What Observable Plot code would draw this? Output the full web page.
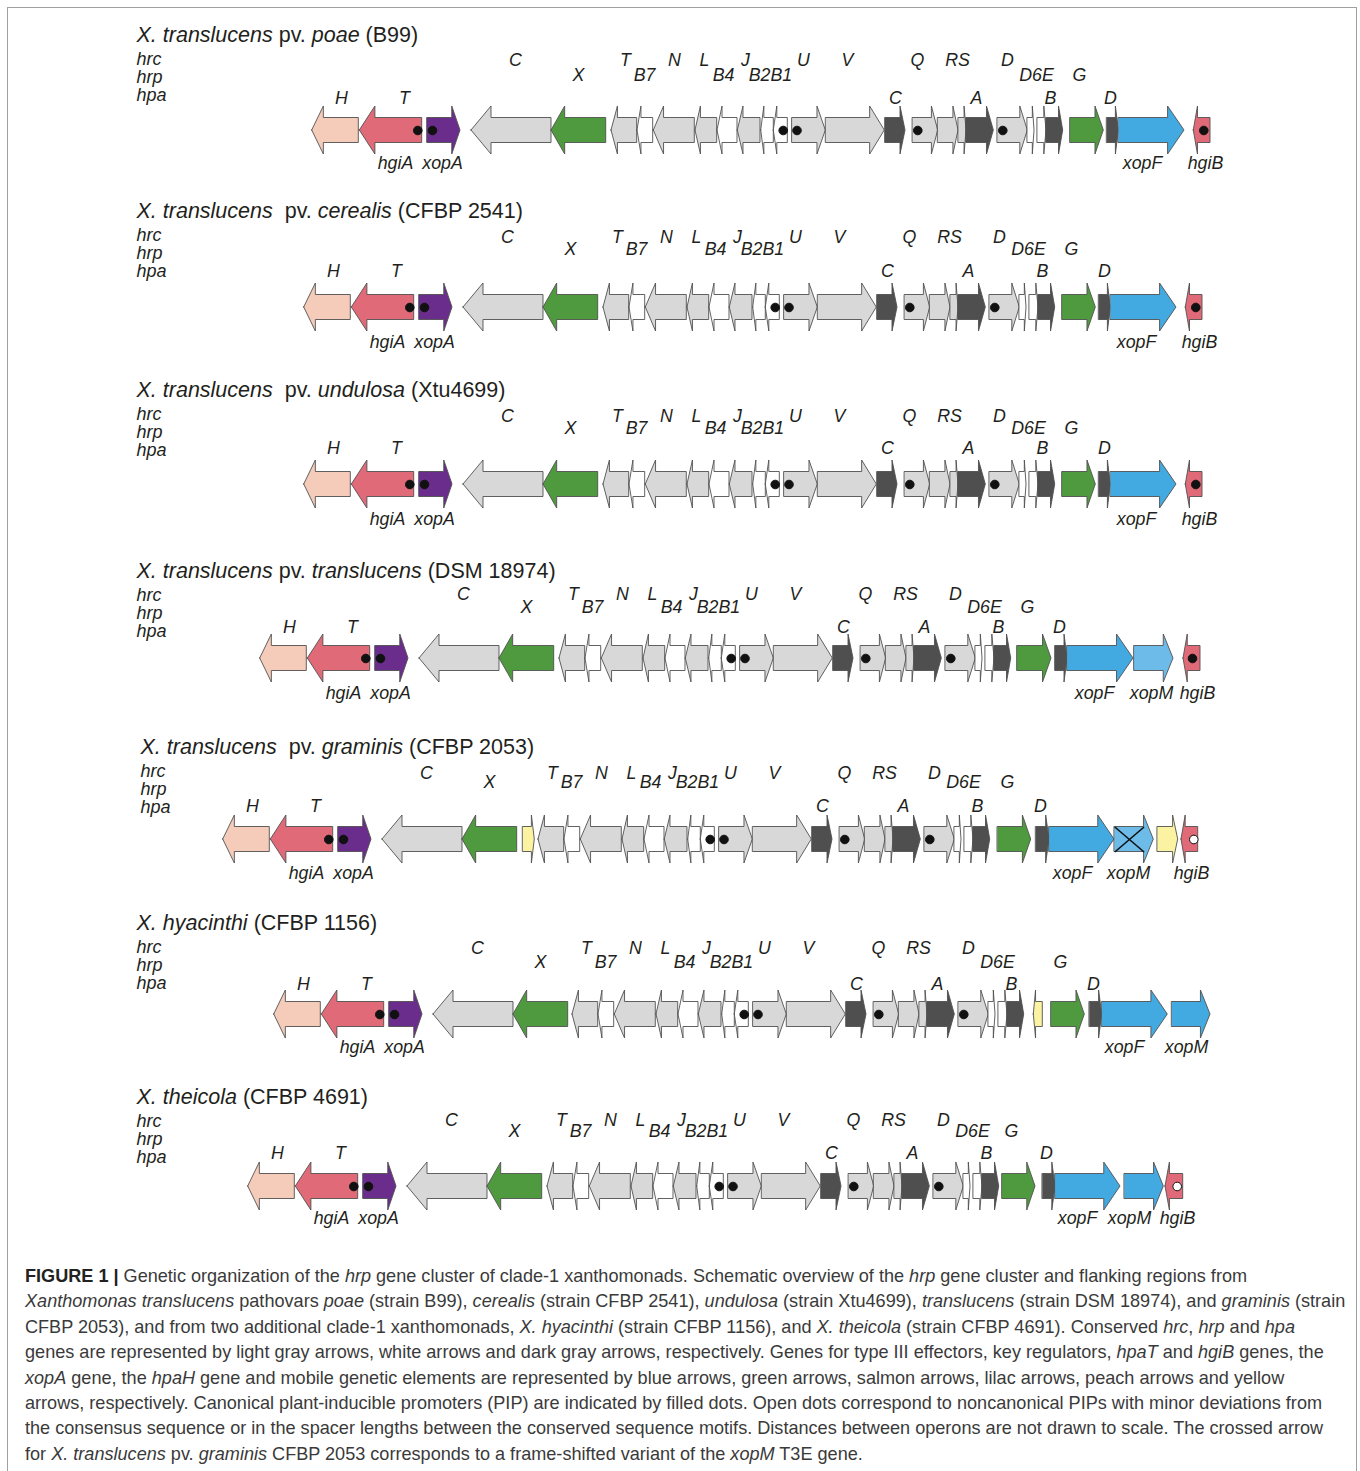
<!DOCTYPE html>
<html><head><meta charset="utf-8">
<script src="https://cdn.jsdelivr.net/npm/d3@7"></script>
<script src="https://cdn.jsdelivr.net/npm/@observablehq/plot@0.6"></script>
<style>
body{margin:0;background:#fff;}
#wrap{position:relative;width:1360px;height:1471px;overflow:hidden;}
#frame{position:absolute;left:7px;top:7px;width:1350px;height:1480px;border:1px solid #a0a0a0;box-sizing:border-box;}
#chart{position:absolute;left:0;top:0;}
#caption{position:absolute;left:25px;top:1264px;font-family:"Liberation Sans",Arial,sans-serif;font-size:18.1px;line-height:25.4px;color:#3a3a3a;white-space:nowrap;}
#caption b{color:#222;}
</style></head><body>
<div id="wrap"><div id="frame"></div><div id="chart"></div>
<div id="caption"><b>FIGURE 1 |</b> Genetic organization of the <i>hrp</i> gene cluster of clade-1 xanthomonads. Schematic overview of the <i>hrp</i> gene cluster and flanking regions from<br><i>Xanthomonas translucens</i> pathovars <i>poae</i> (strain B99), <i>cerealis</i> (strain CFBP 2541), <i>undulosa</i> (strain Xtu4699), <i>translucens</i> (strain DSM 18974), and <i>graminis</i> (strain<br>CFBP 2053), and from two additional clade-1 xanthomonads, <i>X. hyacinthi</i> (strain CFBP 1156), and <i>X. theicola</i> (strain CFBP 4691). Conserved <i>hrc</i>, <i>hrp</i> and <i>hpa</i><br>genes are represented by light gray arrows, white arrows and dark gray arrows, respectively. Genes for type III effectors, key regulators, <i>hpaT</i> and <i>hgiB</i> genes, the<br><i>xopA</i> gene, the <i>hpaH</i> gene and mobile genetic elements are represented by blue arrows, green arrows, salmon arrows, lilac arrows, peach arrows and yellow<br>arrows, respectively. Canonical plant-inducible promoters (PIP) are indicated by filled dots. Open dots correspond to noncanonical PIPs with minor deviations from<br>the consensus sequence or in the spacer lengths between the conserved sequence motifs. Distances between operons are not drawn to scale. The crossed arrow<br>for <i>X. translucens</i> pv. <i>graminis</i> CFBP 2053 corresponds to a frame-shifted variant of the <i>xopM</i> T3E gene.</div>
</div>
<script>
// ---------------- DATA ----------------
const titles = [
  "*X. translucens* pv. *poae* (B99)",
  "*X. translucens*  pv. *cerealis* (CFBP 2541)",
  "*X. translucens*  pv. *undulosa* (Xtu4699)",
  "*X. translucens* pv. *translucens* (DSM 18974)",
  "*X. translucens*  pv. *graminis* (CFBP 2053)",
  "*X. hyacinthi* (CFBP 1156)",
  "*X. theicola* (CFBP 4691)"
];
const geneFamilies = ["hrc", "hrp", "hpa"];

// upstream block (hpaH .. hrpX), coordinates of strain B99
const leftGenes = [
  {start: 311.7, end: 358.3, strand: -1, kind: "peach"},
  {start: 359.3, end: 421.7, strand: -1, kind: "salmon", pip: 417.3},
  {start: 427.0, end: 460.0, strand: 1, kind: "lilac", pip: 432},
  {start: 471.0, end: 551.0, strand: -1, kind: "hrc"},
  {start: 551.0, end: 605.7, strand: -1, kind: "green"}
];
const leftLabels = [["C", 515, 1], ["X", 578, 2], ["H", 341, 3], ["T", 404, 3], ["hgiA", 395, 4], ["xopA", 442, 4]];

// core hrp cluster (hrcT .. hrpB), coordinates of strain B99
const midGenes = [
  {start: 611.0, end: 636.7, strand: -1, kind: "hrc"},
  {start: 637.0, end: 652.7, strand: -1, kind: "hrp"},
  {start: 653.3, end: 694.3, strand: -1, kind: "hrc"},
  {start: 695.0, end: 716.7, strand: -1, kind: "hrc"},
  {start: 717.0, end: 737.0, strand: -1, kind: "hrp"},
  {start: 737.3, end: 760.0, strand: -1, kind: "hrc"},
  {start: 760.7, end: 773.3, strand: -1, kind: "hrp"},
  {start: 773.3, end: 787.3, strand: -1, kind: "hrp", pip: 782.7},
  {start: 792.0, end: 825.3, strand: 1, kind: "hrc", pip: 796.5},
  {start: 825.7, end: 884.3, strand: 1, kind: "hrc"},
  {start: 885.0, end: 905.0, strand: 1, kind: "hpa"},
  {start: 912.5, end: 937.7, strand: 1, kind: "hrc", pip: 917.3},
  {start: 937.7, end: 958.0, strand: 1, kind: "hrc"},
  {start: 958.3, end: 966.0, strand: 1, kind: "hrc"},
  {start: 966.0, end: 993.3, strand: 1, kind: "hpa"},
  {start: 997.3, end: 1027.3, strand: 1, kind: "hrc", pip: 1002.3},
  {start: 1027.3, end: 1034.0, strand: 1, kind: "hrp"},
  {start: 1037.3, end: 1046.0, strand: 1, kind: "hrp"},
  {start: 1046.0, end: 1062.7, strand: 1, kind: "hpa"}
];
const midLabels = [["T", 625, 1], ["B7", 644, 2], ["N", 674, 1], ["L", 704, 1], ["B4", 723, 2], ["J", 745, 1],
  ["B2B1", 770, 2], ["U", 803, 1], ["V", 847, 1], ["Q", 917, 1], ["RS", 957, 1], ["D", 1007, 1], ["D6E", 1036, 2],
  ["C", 895, 3], ["A", 976, 3], ["B", 1050, 3]];

// shift of the two blocks in each strain
const leftShift = [0, -8, -8, -52, -89, -38, -64];
const midShift = [0, -8, -8, -52, -73, -39, -64];

// extra mobile element inside the cluster (graminis)
const extraGenes = [
  {row: 4, start: 522.7, end: 534.3, strand: 1, kind: "yellow"}
];

// downstream genes of every strain
const tails = [
  [{start: 1070, end: 1103.3, strand: 1, kind: "green", label: "G", lx: 1079, line: 2},
   {start: 1106.7, end: 1118.3, strand: 1, kind: "hpa", label: "D", lx: 1110, line: 3},
   {start: 1118.3, end: 1184, strand: 1, kind: "blue", label: "xopF", lx: 1142, line: 4},
   {start: 1193.3, end: 1210, strand: -1, kind: "salmon", pip: 1203.3, label: "hgiB", lx: 1205, line: 4}],
  [{start: 1062, end: 1095.3, strand: 1, kind: "green", label: "G", lx: 1071, line: 2},
   {start: 1098.7, end: 1110.3, strand: 1, kind: "hpa", label: "D", lx: 1104, line: 3},
   {start: 1110.3, end: 1176, strand: 1, kind: "blue", label: "xopF", lx: 1136, line: 4},
   {start: 1185.3, end: 1202, strand: -1, kind: "salmon", pip: 1195.3, label: "hgiB", lx: 1199, line: 4}],
  [{start: 1062, end: 1095.3, strand: 1, kind: "green", label: "G", lx: 1071, line: 2},
   {start: 1098.7, end: 1110.3, strand: 1, kind: "hpa", label: "D", lx: 1104, line: 3},
   {start: 1110.3, end: 1176, strand: 1, kind: "blue", label: "xopF", lx: 1136, line: 4},
   {start: 1185.3, end: 1202, strand: -1, kind: "salmon", pip: 1195.3, label: "hgiB", lx: 1199, line: 4}],
  [{start: 1017, end: 1051, strand: 1, kind: "green", label: "G", lx: 1027, line: 2},
   {start: 1055, end: 1067, strand: 1, kind: "hpa", label: "D", lx: 1059, line: 3},
   {start: 1067, end: 1133, strand: 1, kind: "blue", label: "xopF", lx: 1094, line: 4},
   {start: 1134, end: 1173, strand: 1, kind: "lightblue", label: "xopM", lx: 1151, line: 4},
   {start: 1183, end: 1200, strand: -1, kind: "salmon", pip: 1192, label: "hgiB", lx: 1197, line: 4}],
  [{start: 997.4, end: 1030.7, strand: 1, kind: "green", label: "G", lx: 1007, line: 2},
   {start: 1035.7, end: 1049, strand: 1, kind: "hpa", label: "D", lx: 1040, line: 3},
   {start: 1049, end: 1114, strand: 1, kind: "blue", label: "xopF", lx: 1072, line: 4},
   {start: 1114.3, end: 1153.3, strand: 1, kind: "lightblue", crossed: true, label: "xopM", lx: 1128, line: 4},
   {start: 1157.3, end: 1177.7, strand: 1, kind: "yellow"},
   {start: 1181, end: 1197.7, strand: -1, kind: "salmon", pip: 1193.3, openPip: true, label: "hgiB", lx: 1191, line: 4}],
  [{start: 1033.3, end: 1042.3, strand: -1, kind: "yellow"},
   {start: 1051, end: 1084.3, strand: 1, kind: "green", label: "G", lx: 1060, line: 2},
   {start: 1089.3, end: 1101.7, strand: 1, kind: "hpa", label: "D", lx: 1093, line: 3},
   {start: 1101.7, end: 1167.3, strand: 1, kind: "blue", label: "xopF", lx: 1124, line: 4},
   {start: 1171.7, end: 1210, strand: 1, kind: "blue", label: "xopM", lx: 1186, line: 4}],
  [{start: 1002, end: 1035, strand: 1, kind: "green", label: "G", lx: 1011, line: 2},
   {start: 1042.3, end: 1055, strand: 1, kind: "hpa", label: "D", lx: 1046, line: 3},
   {start: 1055, end: 1120, strand: 1, kind: "blue", label: "xopF", lx: 1077, line: 4},
   {start: 1124.3, end: 1163.3, strand: 1, kind: "blue", label: "xopM", lx: 1129, line: 4},
   {start: 1165, end: 1182.7, strand: -1, kind: "salmon", pip: 1176.7, openPip: true, label: "hgiB", lx: 1177, line: 4}]
];

// ---------------- LAYOUT / STYLE ----------------
const L = {
  rowY: [130, 307, 484, 658, 839, 1014, 1186],
  titleY: [35, 211, 390, 571, 747, 923, 1097],
  titleX: [136, 136, 136, 136, 140, 136, 136],
  lineDy: {
    1: [-70, -70, -68, -64, -66, -66, -66],
    2: [-55, -58, -56, -51, -57, -52, -55],
    3: [-32, -36, -36, -31, -33, -30, -33],
    4: [33, 35, 35, 35, 34, 33, 32]
  },
  famDy: [24, 42, 60],
  body: 12.5, head: 24
};
const colors = {
  hrc: "#d8d8d8", hrp: "#ffffff", hpa: "#4f4f4f", green: "#4f9a3f", blue: "#42a9e1",
  lightblue: "#6cbbe8", salmon: "#e06a78", peach: "#f4ccb9", lilac: "#6a2d8b", yellow: "#fbf3a1"
};
const FONT = "'Liberation Sans', Arial, sans-serif";

// ---------------- BUILD ----------------
const genes = [], labels = [], pips = [], crosses = [], titleRows = [], famRows = [];
for (let r = 0; r < 7; r++) {
  const cy = L.rowY[r];
  const dy = l => L.lineDy[l][r];
  leftGenes.forEach(g => genes.push({...g, row: r, start: g.start + leftShift[r], end: g.end + leftShift[r], pip: g.pip != null ? g.pip + leftShift[r] : null}));
  midGenes.forEach(g => genes.push({...g, row: r, start: g.start + midShift[r], end: g.end + midShift[r], pip: g.pip != null ? g.pip + midShift[r] : null}));
  extraGenes.filter(g => g.row === r).forEach(g => genes.push({...g}));
  tails[r].forEach(g => {
    genes.push({...g, row: r});
    if (g.label) labels.push({text: g.label, x: g.lx, y: cy + dy(g.line)});
  });
  leftLabels.forEach(([t, x, l]) => labels.push({text: t, x: x + leftShift[r], y: cy + dy(l)}));
  midLabels.forEach(([t, x, l]) => labels.push({text: t, x: x + midShift[r], y: cy + dy(l)}));
  titleRows.push({text: titles[r], x: L.titleX[r], y: L.titleY[r]});
  geneFamilies.forEach((f, i) => famRows.push({text: f, x: L.titleX[r], y: L.titleY[r] + L.famDy[i]}));
}
const pts = [];
genes.forEach((g, i) => {
  const cy = L.rowY[g.row];
  const len = g.end - g.start;
  const h = Math.min(len * 0.25, 21);
  const B = L.body, H = L.head;
  const col = colors[g.kind];
  let p;
  if (g.strand > 0) p = [[g.start, B], [g.end - h, B], [g.end - h, H], [g.end, 0]];
  else p = [[g.start, 0], [g.start + h, H], [g.start + h, B], [g.end, B]];
  p.forEach(([x, w]) => pts.push({g: i, x, y1: cy - w, y2: cy + w, fill: col}));
  if (g.pip != null) pips.push({x: g.pip, y: cy, fill: g.openPip ? "#ffffff" : "#111111"});
  if (g.crossed) {
    const xe = g.end - h;
    crosses.push({x1: g.start, y1: cy - B, x2: xe, y2: cy + B});
    crosses.push({x1: g.start, y1: cy + B, x2: xe, y2: cy - B});
  }
});

const chart = Plot.plot({
  width: 1360, height: 1252, margin: 0,
  x: {domain: [0, 1360], range: [0, 1360], axis: null},
  y: {domain: [0, 1252], range: [0, 1252], axis: null},
  color: {type: "identity"},
  style: {fontFamily: FONT, background: "transparent"},
  marks: [
    Plot.area(pts, {x1: "x", y1: "y1", y2: "y2", z: "g", fill: "fill", stroke: "#505050", strokeWidth: 0.9, curve: "linear"}),
    Plot.link(crosses, {x1: "x1", y1: "y1", x2: "x2", y2: "y2", stroke: "#111", strokeWidth: 1.6}),
    Plot.dot(pips, {x: "x", y: "y", r: 4.3, fill: "fill", stroke: "#111", strokeWidth: 1}),
    Plot.text(labels, {x: "x", y: "y", text: "text", fontSize: 17.8, fontStyle: "italic", fill: "#231f20", fontFamily: FONT}),
    Plot.text(famRows, {x: "x", y: "y", text: "text", fontSize: 18, fontStyle: "italic", textAnchor: "start", fill: "#231f20", fontFamily: FONT}),
    Plot.text(titleRows, {x: "x", y: "y", text: "text", fontSize: 21.5, textAnchor: "start", fill: "#231f20", fontFamily: FONT})
  ]
});
// mixed italic / roman titles
chart.querySelectorAll("text").forEach(t => {
  const s = t.textContent;
  if (!s.includes("*")) return;
  t.textContent = "";
  t.setAttribute("style", "white-space:pre");
  s.split("*").forEach((part, i) => {
    if (!part) return;
    const ts = document.createElementNS("http://www.w3.org/2000/svg", "tspan");
    if (i % 2 === 1) ts.setAttribute("font-style", "italic");
    ts.textContent = part;
    t.appendChild(ts);
  });
});
document.getElementById("chart").appendChild(chart);
</script>
</body></html>
